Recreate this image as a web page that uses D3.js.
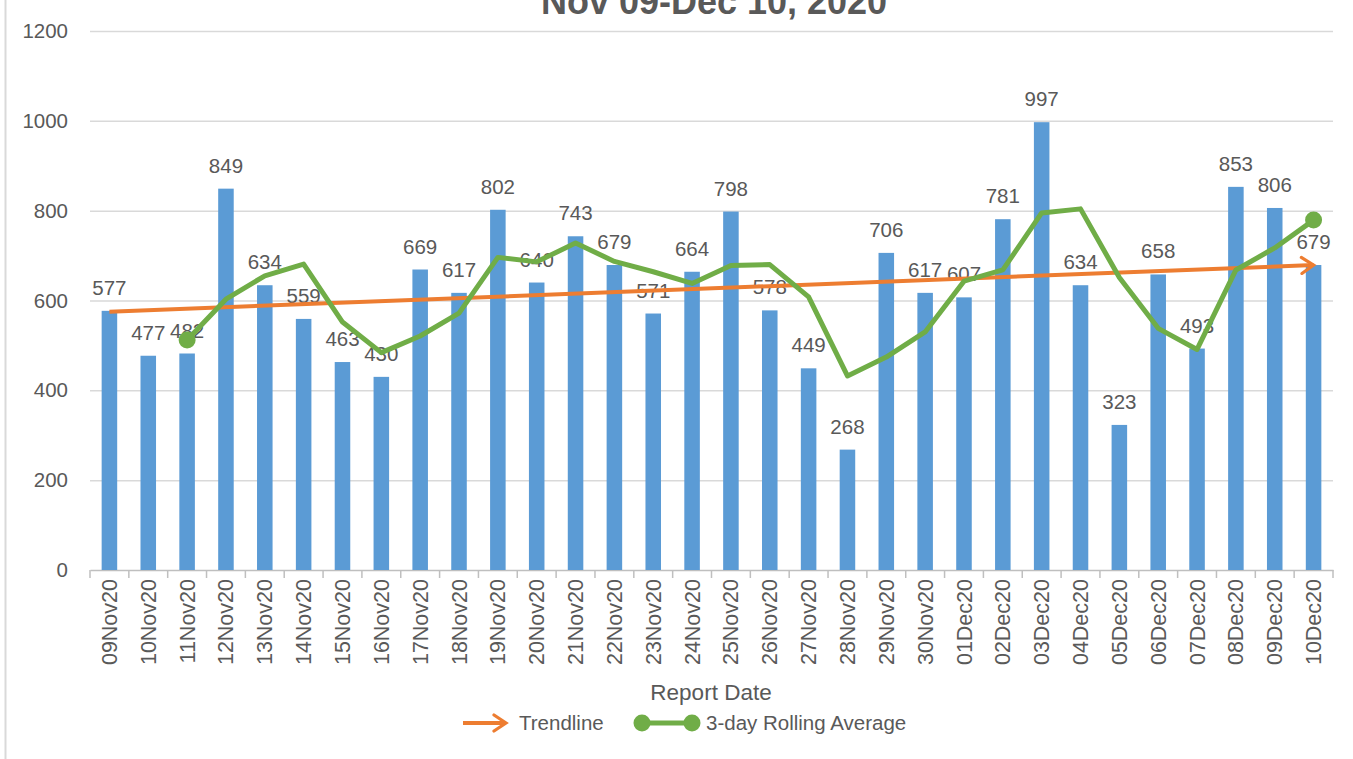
<!DOCTYPE html>
<html>
<head>
<meta charset="utf-8">
<script src="https://cdn.jsdelivr.net/npm/d3@7"></script>
<style>
  body { margin: 0; background: #fff; }
  svg { display: block; font-family: "Liberation Sans", Arial, sans-serif; }
</style>
</head>
<body>
<svg id="chart" width="1353" height="759"></svg>
<script>
// report dates
var dates = ["09Nov20","10Nov20","11Nov20","12Nov20","13Nov20","14Nov20","15Nov20","16Nov20",
  "17Nov20","18Nov20","19Nov20","20Nov20","21Nov20","22Nov20","23Nov20","24Nov20","25Nov20",
  "26Nov20","27Nov20","28Nov20","29Nov20","30Nov20","01Dec20","02Dec20","03Dec20","04Dec20",
  "05Dec20","06Dec20","07Dec20","08Dec20","09Dec20","10Dec20"];
// daily counts
var counts = [577,477,482,849,634,559,463,430,669,617,802,640,743,679,571,664,798,578,449,268,
  706,617,607,781,997,634,323,658,493,853,806,679];
// 3-day rolling average, starts on 11Nov20
var rollDates = dates.slice(2);
var rolling = [512,603,655,681,552,484,521,572,696,686,728,687,664,638,678,680,608,432,474,530,
  643,668,795,804,651,538,491,668,717,779];
// trendline end points (first and last date)
var trendDates = ["09Nov20","10Dec20"];
var trendVals = [575,679];
var yTicks = [0,200,400,600,800,1000,1200];

var svg = d3.select("#chart");
var textCol = "#595959", gridCol = "#d9d9d9";
var blue = "#5b9bd5", orange = "#ed7d31", green = "#70ad47";

var x = d3.scaleBand().domain(dates).range([90, 1333]).padding(0);
var y = d3.scaleLinear().domain([0, 1200]).range([570, 31]);
var cx = function(d){ return x(d) + x.bandwidth()/2; };
var barW = x.bandwidth() * 0.4;

// left frame edge
svg.append("line").attr("x1",5.5).attr("x2",5.5).attr("y1",0).attr("y2",759)
  .attr("stroke",gridCol).attr("stroke-width",2);

// title
svg.append("text").attr("x",714).attr("y",14).attr("text-anchor","middle")
  .attr("font-size",36).attr("font-weight","bold").attr("fill",textCol)
  .text("Nov 09-Dec 10, 2020");

// gridlines
svg.append("g").selectAll("line").data(yTicks.slice(1)).enter().append("line")
  .attr("x1",90).attr("x2",1333)
  .attr("y1",function(d){ return y(d)+0.5; }).attr("y2",function(d){ return y(d)+0.5; })
  .attr("stroke",gridCol).attr("stroke-width",1.5);

// y axis labels
var yAxis = svg.append("g").attr("transform","translate(90,0)")
  .call(d3.axisLeft(y).tickValues(yTicks).tickFormat(d3.format("d")).tickSize(0).tickPadding(22));
yAxis.select(".domain").remove();
yAxis.selectAll("text").attr("font-size",20.5).attr("fill",textCol)
  .attr("font-family","'Liberation Sans', Arial, sans-serif");

// x axis
var xAxis = svg.append("g").attr("transform","translate(0,570)")
  .call(d3.axisBottom(x).tickSize(0).tickPadding(8));
xAxis.select(".domain").attr("stroke","#bfbfbf").attr("stroke-width",1.5);
xAxis.selectAll(".tick text").attr("font-size",21.5).attr("fill",textCol)
  .attr("font-family","'Liberation Sans', Arial, sans-serif")
  .attr("text-anchor","end").attr("dy","0.35em")
  .attr("transform","translate(0,9) rotate(-90)").attr("x",0).attr("y",0);
// tick marks at category boundaries
svg.append("g").selectAll("line").data(dates.concat(["end"])).enter().append("line")
  .attr("x1",function(d,i){ return i < dates.length ? x(d) : 1333; })
  .attr("x2",function(d,i){ return i < dates.length ? x(d) : 1333; })
  .attr("y1",570).attr("y2",578).attr("stroke","#bfbfbf").attr("stroke-width",1.5);

// bars
svg.append("g").selectAll("rect").data(counts).enter().append("rect")
  .attr("x",function(d,i){ return cx(dates[i]) - barW/2; })
  .attr("y",function(d){ return y(d); })
  .attr("width",barW)
  .attr("height",function(d){ return y(0) - y(d); })
  .attr("fill",blue);

// data labels
svg.append("g").selectAll("text").data(counts).enter().append("text")
  .attr("x",function(d,i){ return cx(dates[i]); })
  .attr("y",function(d){ return y(d) - 16; })
  .attr("text-anchor","middle").attr("font-size",20.5).attr("fill",textCol)
  .text(function(d){ return d; });

// arrow marker for trendline
var defs = svg.append("defs");
defs.append("marker").attr("id","arrow").attr("viewBox","0 0 20 20")
  .attr("refX",16).attr("refY",10).attr("markerWidth",5).attr("markerHeight",5)
  .attr("markerUnits","strokeWidth").attr("orient","auto")
  .append("path").attr("d","M4,2 L16,10 L4,18").attr("fill","none")
  .attr("stroke",orange).attr("stroke-width",3.2).attr("stroke-linecap","round");

// trendline
svg.append("path")
  .datum(trendDates.map(function(d,i){ return [cx(d), y(trendVals[i])]; }))
  .attr("d", d3.line())
  .attr("fill","none").attr("stroke",orange).attr("stroke-width",4)
  .attr("marker-end","url(#arrow)");

// rolling average
var rollPts = rollDates.map(function(d,i){ return [cx(d), y(rolling[i])]; });
svg.append("path").datum(rollPts).attr("d", d3.line())
  .attr("fill","none").attr("stroke",green).attr("stroke-width",5)
  .attr("stroke-linejoin","round");
svg.append("g").selectAll("circle").data([rollPts[0], rollPts[rollPts.length-1]]).enter()
  .append("circle").attr("cx",function(d){ return d[0]; }).attr("cy",function(d){ return d[1]; })
  .attr("r",8.5).attr("fill",green);

// axis title
svg.append("text").attr("x",711).attr("y",700).attr("text-anchor","middle")
  .attr("font-size",22.5).attr("fill",textCol).text("Report Date");

// legend
var lg = svg.append("g");
lg.append("line").attr("x1",463).attr("x2",506).attr("y1",723).attr("y2",723)
  .attr("stroke",orange).attr("stroke-width",4).attr("marker-end","url(#arrow)");
lg.append("text").attr("x",519).attr("y",730).attr("font-size",20.5).attr("fill",textCol)
  .text("Trendline");
lg.append("line").attr("x1",642).attr("x2",692).attr("y1",723).attr("y2",723)
  .attr("stroke",green).attr("stroke-width",5);
lg.selectAll("circle").data([642,692]).enter().append("circle")
  .attr("cx",function(d){ return d; }).attr("cy",723).attr("r",8.5).attr("fill",green);
lg.append("text").attr("x",706).attr("y",730).attr("font-size",20.5).attr("fill",textCol)
  .text("3-day Rolling Average");
</script>
</body>
</html>
